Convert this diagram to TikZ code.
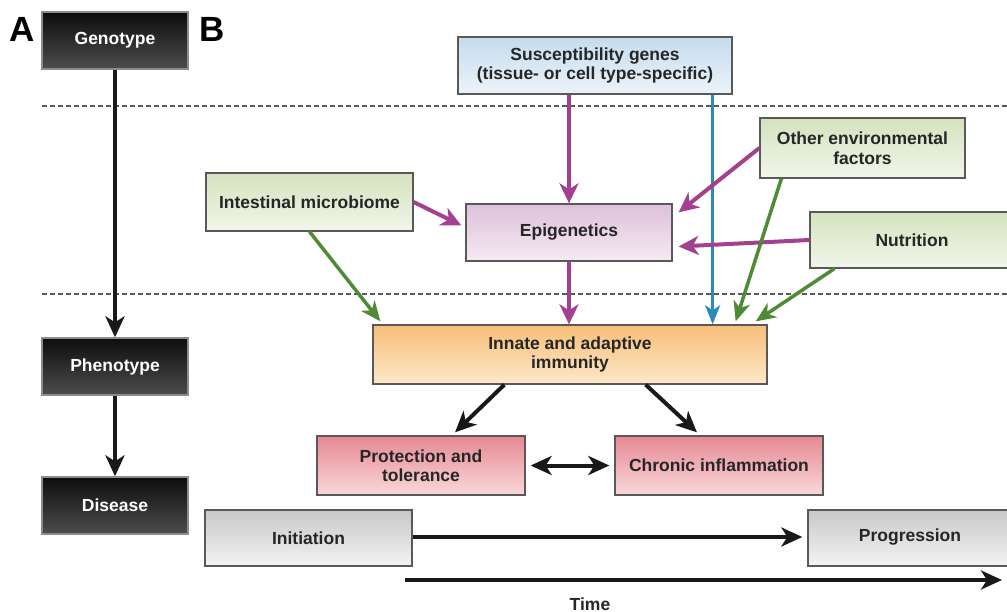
\documentclass[tikz,border=0pt]{standalone}
\usepackage{fontspec}
\setmainfont{Liberation Sans}
\usetikzlibrary{arrows.meta,calc}
\definecolor{purp}{HTML}{A3408F}
\definecolor{grn}{HTML}{4F8A37}
\definecolor{blu}{HTML}{2A8AB8}
\begin{document}
\begin{tikzpicture}[x=1pt,y=-1pt,
  bx/.style={draw=black!65, line width=1.3pt, align=center, inner sep=0pt,
    font=\fontsize{17.5}{19.5}\selectfont\bfseries, text=black!85},
  dark/.style={bx, top color=black!95, bottom color=black!70, text=white!92, draw=black!45},
  bluebox/.style={bx, top color={rgb,255:red,197;green,220;blue,237}, bottom color={rgb,255:red,236;green,243;blue,249}},
  greenbox/.style={bx, top color={rgb,255:red,212;green,226;blue,190}, bottom color={rgb,255:red,241;green,246;blue,234}},
  epibox/.style={bx, top color={rgb,255:red,222;green,192;blue,218}, bottom color={rgb,255:red,245;green,234;blue,243}},
  orbox/.style={bx, top color={rgb,255:red,247;green,190;blue,120}, bottom color={rgb,255:red,253;green,232;blue,202}},
  redbox/.style={bx, top color={rgb,255:red,230;green,136;blue,146}, bottom color={rgb,255:red,249;green,216;blue,218}},
  graybox/.style={bx, top color={rgb,255:red,200;green,200;blue,200}, bottom color={rgb,255:red,243;green,243;blue,243}},
  letter/.style={font=\fontsize{35}{35}\selectfont\bfseries, inner sep=0pt},
  blk/.style={line width=4pt, draw=black!90, -{Stealth[length=21pt,width=19pt,inset=6pt]}},
  blkdbl/.style={line width=4pt, draw=black!90, {Stealth[length=21pt,width=19pt,inset=6pt]}-{Stealth[length=21pt,width=19pt,inset=6pt]}},
  prp/.style={line width=4pt, draw=purp, -{Stealth[length=20pt,width=19pt,inset=6pt]}},
  grnarr/.style={line width=3.5pt, draw=grn, -{Stealth[length=20pt,width=17pt,inset=6pt]}},
  bluarr/.style={line width=3pt, draw=blu, -{Stealth[length=19pt,width=15pt,inset=5pt]}},
  dashline/.style={line width=1.2pt, draw=black!65, dash pattern=on 5pt off 3pt}
]
\useasboundingbox (0,0) rectangle (1007,612);

% dashed separators
\coordinate (d1a) at (42,106); \coordinate (d1b) at (1007,106);
\coordinate (d2a) at (42,294); \coordinate (d2b) at (1007,294);
\draw[dashline] (d1a) -- (d1b);
\draw[dashline] (d2a) -- (d2b);

% panel A
\node[letter] (la) at (22,29) {A};
\node[letter] (lb) at (212,29) {B};
\node[dark, minimum width=146pt, minimum height=57pt] (geno) at (115,40.5) {Genotype};
\node[dark, minimum width=146pt, minimum height=57pt] (pheno) at (115,366.5) {Phenotype};
\node[dark, minimum width=146pt, minimum height=57pt] (dis) at (115,505.5) {Disease};
\draw[blk] (geno.south) -- (pheno.north);
\draw[blk] (pheno.south) -- (dis.north);

% panel B nodes
\node[bluebox, minimum width=274pt, minimum height=57pt] (sus) at (595,65.5) {Susceptibility genes\\(tissue- or cell type-specific)};
\node[greenbox, minimum width=205pt, minimum height=60pt] (other) at (862.5,148) {Other environmental\\factors};
\node[greenbox, minimum width=207pt, minimum height=58pt] (micro) at (309.5,202) {Intestinal microbiome};
\node[epibox, minimum width=206pt, minimum height=57pt] (epi) at (569,232.5) {Epigenetics};
\node[greenbox, minimum width=204pt, minimum height=56pt] (nutr) at (912,240) {Nutrition};
\node[orbox, minimum width=394pt, minimum height=59pt] (inn) at (570,354.5) {Innate and adaptive\\immunity};
\node[redbox, minimum width=208pt, minimum height=59pt] (prot) at (421,465.5) {Protection and\\tolerance};
\node[redbox, minimum width=208pt, minimum height=59pt] (chron) at (719,465.5) {Chronic inflammation};
\node[graybox, minimum width=207pt, minimum height=56pt] (init) at (308.5,538) {Initiation};
\node[graybox, minimum width=204pt, minimum height=56pt] (prog) at (910,538) {Progression\strut};
\node[font=\fontsize{17.5}{19.5}\selectfont\bfseries, text=black!85, inner sep=0pt] (time) at (590,604) {Time};

% connectors
\coordinate (bt) at ($(sus.south east)+(-20,0)$);
\draw[prp] (sus.south -| epi.north) -- (epi.north);
\draw[bluarr] (bt) -- (bt |- inn.north);
\draw[prp] (micro.east) -- ($(epi.west)+(-4,-7)$);
\draw[prp] (other.west) -- ($(epi.north east)+(6,9)$);
\draw[prp] (nutr.west) -- ($(epi.east)+(6,14)$);
\draw[prp] (epi.south) -- (epi.south |- inn.north);
\draw[grnarr] (micro.south) -- ($(inn.north west)+(8,-3)$);
\draw[grnarr] ($(other.south west)+(22,0)$) -- ($(inn.north east)+(-32,-3)$);
\draw[grnarr] ($(nutr.south west)+(25,0)$) -- ($(inn.north east)+(-12,-3)$);
\draw[blk] ($(inn.south west)+(132,0)$) -- ($(prot.north)+(34,-3)$);
\draw[blk] ($(inn.south east)+(-122,0)$) -- ($(chron.north)+(-22,-3)$);
\draw[blkdbl] ($(prot.east)+(5,0)$) -- ($(chron.west)+(-5,0)$);
\draw[blk] ($(init.east)+(0,-1)$) -- ($(prog.west)+(-5,-1)$);
\coordinate (t1) at (405,580); \coordinate (t2) at (1002,580);
\draw[blk] (t1) -- (t2);
\end{tikzpicture}
\end{document}
